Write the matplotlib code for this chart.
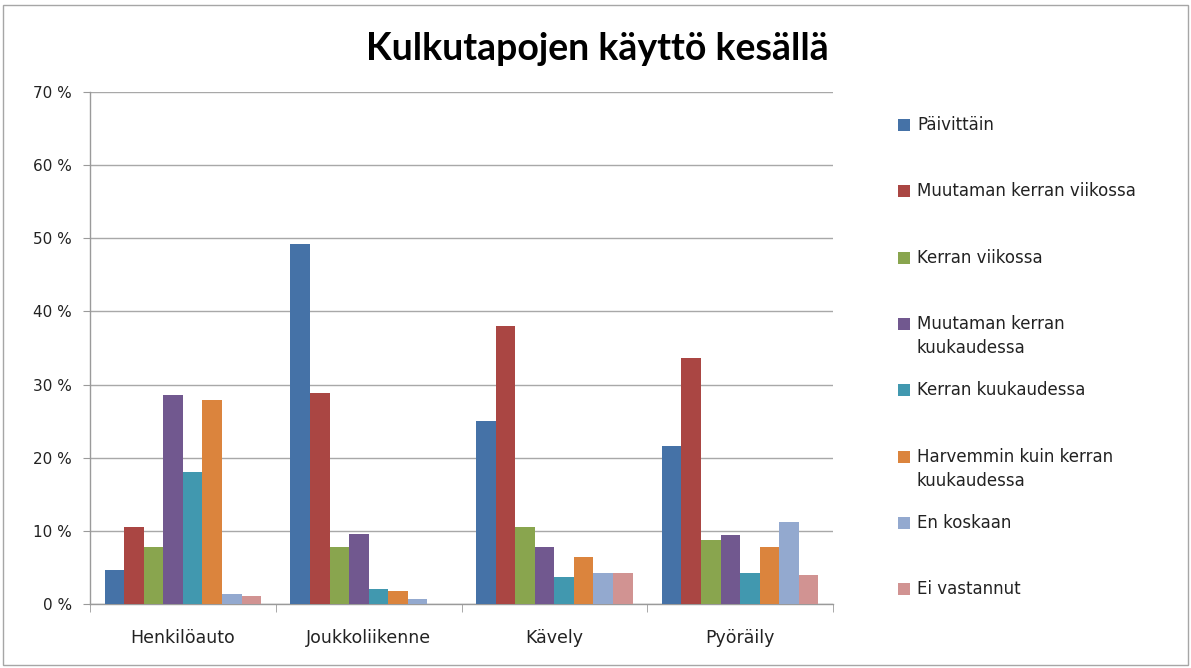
import matplotlib
matplotlib.use("Agg")
import matplotlib.pyplot as plt
from matplotlib.patches import Rectangle
import numpy as np

categories = ["Henkilöauto", "Joukkoliikenne", "Kävely", "Pyöräily"]
series = [
    "Päivittäin",
    "Muutaman kerran viikossa",
    "Kerran viikossa",
    "Muutaman kerran\nkuukaudessa",
    "Kerran kuukaudessa",
    "Harvemmin kuin kerran\nkuukaudessa",
    "En koskaan",
    "Ei vastannut",
]
paivittain = [4.6, 49.2, 25.0, 21.6]
muutaman_viikossa = [10.5, 28.8, 38.0, 33.6]
kerran_viikossa = [7.8, 7.8, 10.5, 8.8]
muutaman_kuukaudessa = [28.6, 9.6, 7.8, 9.4]
kerran_kuukaudessa = [18.0, 2.1, 3.7, 4.2]
harvemmin = [27.9, 1.8, 6.4, 7.8]
en_koskaan = [1.3, 0.7, 4.3, 11.2]
ei_vastannut = [1.1, 0.0, 4.3, 3.9]
values = [paivittain, muutaman_viikossa, kerran_viikossa, muutaman_kuukaudessa,
          kerran_kuukaudessa, harvemmin, en_koskaan, ei_vastannut]
yticks = [0, 10, 20, 30, 40, 50, 60, 70]
ytick_labels = ["0 %", "10 %", "20 %", "30 %", "40 %", "50 %", "60 %", "70 %"]
title = "Kulkutapojen käyttö kesällä"

colors = ["#4572A7", "#AA4643", "#89A54E", "#71588F",
          "#4198AF", "#DB843D", "#93A9CF", "#D19392"]

plt.rcParams['font.family'] = ['DejaVu Sans']

W, H = 1191, 668
fig = plt.figure(figsize=(W / 100, H / 100), dpi=100)
fig.patch.set_facecolor("white")

# outer chart border
fig.add_artist(Rectangle((3 / W, 3 / H), (1185) / W, (660) / H, transform=fig.transFigure,
                         fill=False, edgecolor="#A6A6A6", linewidth=1.0))

ax = fig.add_axes([90 / W, 1 - 604 / H, (833 - 90) / W, (604 - 92) / H])

n = len(series)
gap = 1.5
bw = 1.0 / (n + gap)
x = np.arange(len(categories))
for i, (vals, col) in enumerate(zip(values, colors)):
    offs = (i - (n - 1) / 2) * bw
    ax.bar(x + offs, vals, width=bw, color=col, edgecolor="none", zorder=3)

ax.set_xlim(-0.5, len(categories) - 0.5)
ax.set_ylim(0, 70)
ax.set_yticks(yticks)
ax.set_yticklabels(ytick_labels, fontsize=11, color="#222222")
ax.set_xticks(x)
ax.set_xticklabels(categories, fontsize=12.5, color="#222222")
ax.set_xticks(np.arange(-0.5, len(categories)), minor=True)
ax.tick_params(axis="x", which="major", length=0, pad=18)
ax.tick_params(axis="x", which="minor", length=6, color="#9A9A9A", direction="out")
ax.tick_params(axis="y", length=5, color="#9A9A9A", pad=8)

ax.grid(axis="y", color="#A8A8A8", linewidth=1.0, zorder=0)
for s in ["top", "right"]:
    ax.spines[s].set_visible(False)
for s in ["left", "bottom"]:
    ax.spines[s].set_color("#9A9A9A")
    ax.spines[s].set_linewidth(1.0)

fig.text(597 / W, 1 - 49 / H, title, ha="center", va="center",
         fontsize=27, fontweight="bold", family=["Lato", "DejaVu Sans"], color="black")

# legend
for i, (lab, col) in enumerate(zip(series, colors)):
    yc = 125 + i * 66.3
    fig.add_artist(Rectangle((898 / W, 1 - (yc + 6) / H), 12 / W, 12 / H,
                             transform=fig.transFigure, facecolor=col, edgecolor="none"))
    fig.text(917 / W, 1 - (yc - 9) / H, lab, ha="left", va="top", fontsize=12,
             color="#222222", linespacing=1.45)

fig.savefig("out.png", dpi=100)
